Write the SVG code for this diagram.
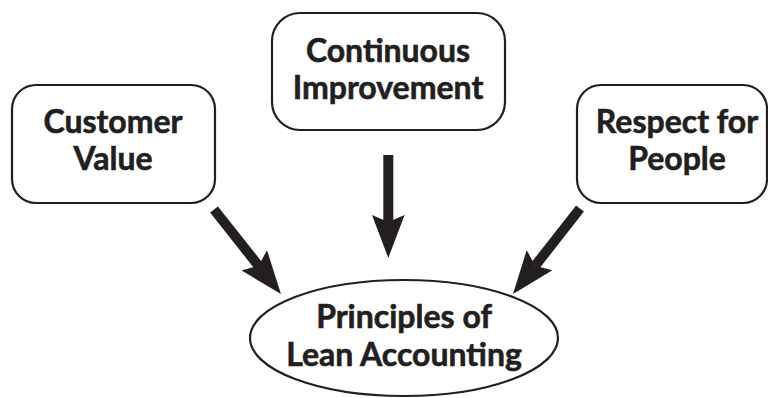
<svg xmlns="http://www.w3.org/2000/svg" width="768" height="398" viewBox="0 0 768 398">
<style>
.box{fill:#fff;stroke:#231f20;stroke-width:2.2}
.lbl{font-family:Lato,"Open Sans","Liberation Sans",sans-serif;font-weight:bold;font-size:32px;fill:#231f20;stroke:#231f20;stroke-width:0.6;text-anchor:middle}
.arr{stroke:#231f20;stroke-width:10;fill:none;marker-end:url(#head)}
</style>
<defs>
<marker id="head" viewBox="0 0 43 32.6" refX="7" refY="16.3" markerWidth="43" markerHeight="32.6" markerUnits="userSpaceOnUse" orient="auto">
<path d="M0,0 L43,16.3 L0,32.6 L7,16.3 Z" fill="#231f20"/>
</marker>
</defs>
<rect width="768" height="398" fill="#fff"/>
<g id="customer-value">
<rect class="box" x="12" y="85" width="203" height="118" rx="24" ry="24"/>
<text class="lbl" x="113" y="133">Customer</text>
<text class="lbl" x="113" y="170">Value</text>
</g>
<g id="continuous-improvement">
<rect class="box" x="272" y="13" width="233" height="117" rx="28" ry="28"/>
<text class="lbl" x="388" y="62">Continuous</text>
<text class="lbl" x="388" y="99">Improvement</text>
</g>
<g id="respect-for-people">
<rect class="box" x="577" y="85" width="190" height="118" rx="24" ry="24"/>
<text class="lbl" x="677" y="133">Respect for</text>
<text class="lbl" x="677" y="170">People</text>
</g>
<g id="lean-accounting">
<ellipse class="box" cx="404" cy="338" rx="154" ry="58"/>
<text class="lbl" x="404" y="328">Principles of</text>
<text class="lbl" x="404" y="366">Lean Accounting</text>
</g>
<g id="connectors">
<line class="arr" x1="214" y1="209.5" x2="258.6" y2="265.8"/>
<line class="arr" x1="388.3" y1="155" x2="388.3" y2="222"/>
<line class="arr" x1="580" y1="208.5" x2="535.2" y2="265.7"/>
</g>
</svg>
